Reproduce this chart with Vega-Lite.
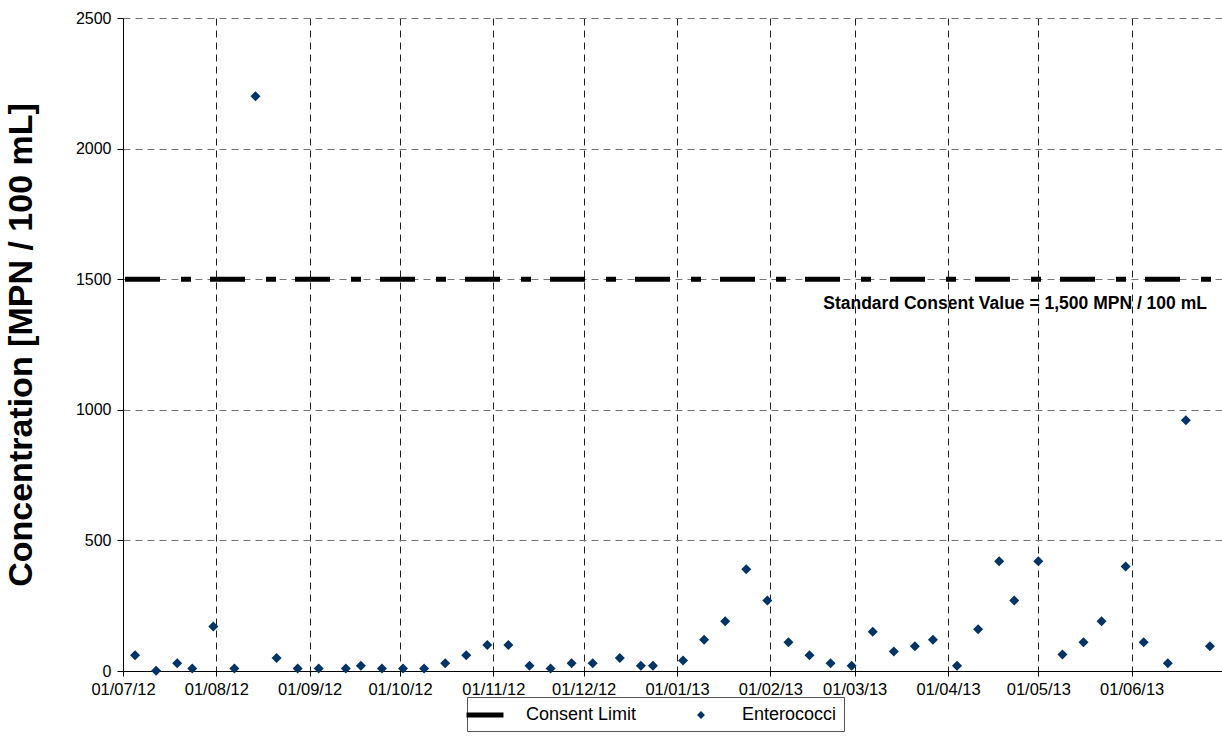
{
  "$schema": "https://vega.github.io/schema/vega-lite/v6.json",
  "width": 1099,
  "height": 653,
  "autosize": "none",
  "padding": {"left": 123, "top": 18, "right": 0, "bottom": 82},
  "background": "white",
  "config": {
    "font": "Liberation Sans",
    "view": {"stroke": null},
    "axis": {"labelFont": "Liberation Sans", "titleFont": "Liberation Sans", "labelColor": "black", "titleColor": "black"},
    "legend": {
      "title": null,
      "orient": "none",
      "legendX": 344,
      "legendY": 679,
      "direction": "horizontal",
      "padding": 7,
      "strokeColor": "#555555",
      "fillColor": "white",
      "labelFontSize": 18,
      "labelFont": "Liberation Sans",
      "labelColor": "black",
      "labelOffset": 30,
      "columnPadding": 53,
      "symbolSize": 484,
      "symbolStrokeWidth": 0
    }
  },
  "datasets": {
    "samples": [
      {"date": "2012-07-05", "value": 60, "series": "Enterococci"},
      {"date": "2012-07-12", "value": 1, "series": "Enterococci"},
      {"date": "2012-07-19", "value": 30, "series": "Enterococci"},
      {"date": "2012-07-24", "value": 10, "series": "Enterococci"},
      {"date": "2012-07-31", "value": 170, "series": "Enterococci"},
      {"date": "2012-08-07", "value": 10, "series": "Enterococci"},
      {"date": "2012-08-14", "value": 2200, "series": "Enterococci"},
      {"date": "2012-08-21", "value": 50, "series": "Enterococci"},
      {"date": "2012-08-28", "value": 10, "series": "Enterococci"},
      {"date": "2012-09-04", "value": 10, "series": "Enterococci"},
      {"date": "2012-09-13", "value": 10, "series": "Enterococci"},
      {"date": "2012-09-18", "value": 20, "series": "Enterococci"},
      {"date": "2012-09-25", "value": 10, "series": "Enterococci"},
      {"date": "2012-10-02", "value": 10, "series": "Enterococci"},
      {"date": "2012-10-09", "value": 10, "series": "Enterococci"},
      {"date": "2012-10-16", "value": 30, "series": "Enterococci"},
      {"date": "2012-10-23", "value": 60, "series": "Enterococci"},
      {"date": "2012-10-30", "value": 100, "series": "Enterococci"},
      {"date": "2012-11-06", "value": 100, "series": "Enterococci"},
      {"date": "2012-11-13", "value": 20, "series": "Enterococci"},
      {"date": "2012-11-20", "value": 10, "series": "Enterococci"},
      {"date": "2012-11-27", "value": 30, "series": "Enterococci"},
      {"date": "2012-12-04", "value": 30, "series": "Enterococci"},
      {"date": "2012-12-13", "value": 50, "series": "Enterococci"},
      {"date": "2012-12-20", "value": 20, "series": "Enterococci"},
      {"date": "2012-12-24", "value": 20, "series": "Enterococci"},
      {"date": "2013-01-03", "value": 40, "series": "Enterococci"},
      {"date": "2013-01-10", "value": 120, "series": "Enterococci"},
      {"date": "2013-01-17", "value": 190, "series": "Enterococci"},
      {"date": "2013-01-24", "value": 390, "series": "Enterococci"},
      {"date": "2013-01-31", "value": 270, "series": "Enterococci"},
      {"date": "2013-02-07", "value": 110, "series": "Enterococci"},
      {"date": "2013-02-14", "value": 60, "series": "Enterococci"},
      {"date": "2013-02-21", "value": 30, "series": "Enterococci"},
      {"date": "2013-02-28", "value": 20, "series": "Enterococci"},
      {"date": "2013-03-07", "value": 150, "series": "Enterococci"},
      {"date": "2013-03-14", "value": 75, "series": "Enterococci"},
      {"date": "2013-03-21", "value": 95, "series": "Enterococci"},
      {"date": "2013-03-27", "value": 120, "series": "Enterococci"},
      {"date": "2013-04-04", "value": 20, "series": "Enterococci"},
      {"date": "2013-04-11", "value": 160, "series": "Enterococci"},
      {"date": "2013-04-18", "value": 420, "series": "Enterococci"},
      {"date": "2013-04-23", "value": 270, "series": "Enterococci"},
      {"date": "2013-05-01", "value": 420, "series": "Enterococci"},
      {"date": "2013-05-09", "value": 63, "series": "Enterococci"},
      {"date": "2013-05-16", "value": 110, "series": "Enterococci"},
      {"date": "2013-05-22", "value": 190, "series": "Enterococci"},
      {"date": "2013-05-30", "value": 400, "series": "Enterococci"},
      {"date": "2013-06-05", "value": 110, "series": "Enterococci"},
      {"date": "2013-06-13", "value": 30, "series": "Enterococci"},
      {"date": "2013-06-19", "value": 960, "series": "Enterococci"},
      {"date": "2013-06-27", "value": 95, "series": "Enterococci"}
    ],
    "limit": [
      {"value": 1500, "series": "Consent Limit"}
    ],
    "notes": [
      {"date": "2013-06-26", "value": 1500, "label": "Standard Consent Value = 1,500 MPN / 100 mL"}
    ]
  },
  "layer": [
    {
      "data": {"name": "limit"},
      "mark": {"type": "rule", "strokeWidth": 5, "strokeDash": [35, 19, 10, 21], "strokeDashOffset": 43},
      "encoding": {
        "y": {"field": "value", "type": "quantitative", "scale": {"domain": [0, 2500], "nice": false}},
        "color": {"field": "series", "type": "nominal"}
      }
    },
    {
      "data": {"name": "samples"},
      "mark": {"type": "point", "filled": true, "size": 772, "opacity": 1, "strokeWidth": 0},
      "encoding": {
        "x": {
          "field": "date", "type": "temporal",
          "scale": {"type": "utc", "domain": ["2012-07-01", "2013-07-01"]},
          "axis": {
            "title": null,
            "values": ["2012-07-01", "2012-08-01", "2012-09-01", "2012-10-01", "2012-11-01", "2012-12-01", "2013-01-01", "2013-02-01", "2013-03-01", "2013-04-01", "2013-05-01", "2013-06-01"],
            "labelExpr": "utcFormat(datum.value, '%d/%m/%y')",
            "labelFontSize": 16.5,
            "labelPadding": 5,
            "labelFlush": false,
            "labelOverlap": false,
            "tickSize": 5,
            "tickColor": "black",
            "domainColor": "black",
            "domainWidth": 1.2,
            "grid": true,
            "gridColor": "#222222",
            "gridDash": [7, 5],
            "gridWidth": 1
          }
        },
        "y": {
          "field": "value", "type": "quantitative",
          "scale": {"domain": [0, 2500], "nice": false},
          "axis": {
            "title": "Concentration [MPN / 100 mL]",
            "titleFontSize": 34,
            "titleFontWeight": "bold",
            "titlePadding": 37,
            "values": [0, 500, 1000, 1500, 2000, 2500],
            "format": "d",
            "labelFontSize": 16,
            "labelPadding": 6,
            "tickSize": 6,
            "tickColor": "black",
            "domainColor": "black",
            "grid": true,
            "gridColor": "#777777",
            "gridDash": [7, 5],
            "gridWidth": 1
          }
        },
        "color": {
          "field": "series", "type": "nominal",
          "scale": {"domain": ["Consent Limit", "Enterococci"], "range": ["black", "#003366"]}
        },
        "shape": {
          "field": "series", "type": "nominal",
          "scale": {"domain": ["Consent Limit", "Enterococci"], "range": ["M-2.68,0M-1.68,-0.23H1.68V0.23H-1.68Z", "M0,-0.36L0.36,0L0,0.36L-0.36,0Z"]}
        }
      }
    },
    {
      "data": {"name": "notes"},
      "mark": {"type": "text", "align": "right", "baseline": "middle", "dy": 25, "fontSize": 17.5, "fontWeight": "bold", "color": "black", "font": "Liberation Sans"},
      "encoding": {
        "x": {"field": "date", "type": "temporal"},
        "y": {"field": "value", "type": "quantitative"},
        "text": {"field": "label", "type": "nominal"}
      }
    }
  ]
}
